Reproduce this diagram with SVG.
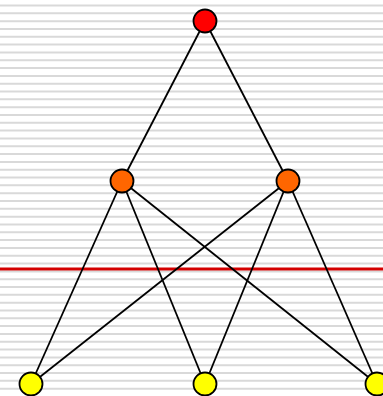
<svg xmlns="http://www.w3.org/2000/svg" width="383" height="396" viewBox="0 0 383 396">
<style>
.stripe{stroke:#d9d9d9;stroke-width:2;fill:none}
.edge{stroke:#000;stroke-width:1.8;fill:none}
.node{stroke:#000;stroke-width:1.8}
</style>
<rect width="383" height="396" fill="#fff"/>
<path class="stripe" d="M0 5.5h383M0 13.32h383M0 21.14h383M0 28.96h383M0 36.78h383M0 44.6h383M0 52.42h383M0 60.24h383M0 68.06h383M0 75.88h383M0 83.7h383M0 91.52h383M0 99.34h383M0 107.16h383M0 114.98h383M0 122.8h383M0 130.62h383M0 138.44h383M0 146.26h383M0 154.08h383M0 161.9h383M0 169.72h383M0 177.54h383M0 185.36h383M0 193.18h383M0 201h383M0 208.82h383M0 216.64h383M0 224.46h383M0 232.28h383M0 240.1h383M0 247.92h383M0 255.74h383M0 263.56h383M0 271.38h383M0 279.2h383M0 287.02h383M0 294.84h383M0 302.66h383M0 310.48h383M0 318.3h383M0 326.12h383M0 333.94h383M0 341.76h383M0 349.58h383M0 357.4h383M0 365.22h383M0 373.04h383M0 380.86h383M0 388.68h383"/>
<line x1="0" y1="269" x2="383" y2="269" stroke="#d40000" stroke-width="3"/>
<g id="connectors">
<line class="edge" x1="205" y1="21" x2="122" y2="181"/>
<line class="edge" x1="205" y1="21" x2="288" y2="181"/>
<line class="edge" x1="122" y1="181" x2="31" y2="384"/>
<line class="edge" x1="122" y1="181" x2="205" y2="384"/>
<line class="edge" x1="122" y1="181" x2="377" y2="384"/>
<line class="edge" x1="288" y1="181" x2="31" y2="384"/>
<line class="edge" x1="288" y1="181" x2="205" y2="384"/>
<line class="edge" x1="288" y1="181" x2="377" y2="384"/>
</g>
<g id="n0"><circle class="node" cx="205" cy="21" r="11.5" fill="#ff0000"/></g>
<g id="n1"><circle class="node" cx="122" cy="181" r="11.5" fill="#ff6600"/></g>
<g id="n2"><circle class="node" cx="288" cy="181" r="11.5" fill="#ff6600"/></g>
<g id="n3"><circle class="node" cx="31" cy="384" r="11.5" fill="#ffff00"/></g>
<g id="n4"><circle class="node" cx="205" cy="384" r="11.5" fill="#ffff00"/></g>
<g id="n5"><circle class="node" cx="377" cy="384" r="11.5" fill="#ffff00"/></g>
</svg>
